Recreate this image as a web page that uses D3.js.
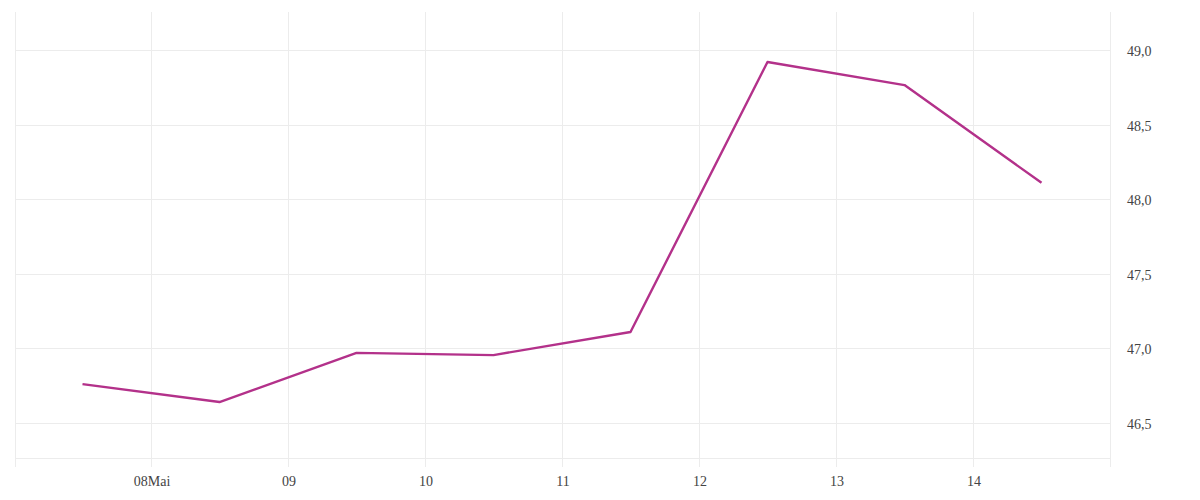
<!DOCTYPE html>
<html><head><meta charset="utf-8">
<script src="https://cdn.jsdelivr.net/npm/d3@7"></script>
<style>body{margin:0;background:#fff}svg{display:block}</style>
</head><body>
<script>
const dates = ["2024-05-07T12:00","2024-05-08T12:00","2024-05-09T12:00","2024-05-10T12:00","2024-05-11T12:00","2024-05-12T12:00","2024-05-13T12:00","2024-05-14T12:00"];
const values = [46.76, 46.64, 46.97, 46.955, 47.11, 48.92, 48.765, 48.11];
const yTicks = [46.5, 47.0, 47.5, 48.0, 48.5, 49.0];
const xTickLabels = ["08Mai","09","10","11","12","13","14"];

const W = 1200, H = 500;
const m = {left: 14, right: 90, top: 12, bottom: 42};
const svg = d3.select("body").append("svg").attr("width", W).attr("height", H);
const parse = d3.timeParse("%Y-%m-%dT%H:%M");
const data = dates.map((d,i)=>({date: parse(d), v: values[i]}));

const x = d3.scaleTime().domain([parse("2024-05-07T00:00"), parse("2024-05-15T00:00")]).range([m.left, W - m.right]);
const y = d3.scaleLinear().domain([46.265, 49.255]).range([H - m.bottom, m.top]);
const xTicks = d3.range(8, 15).map(d => parse(`2024-05-${String(d).padStart(2,"0")}T00:00`));

const grid = "#ececec";
const plotL = m.left + 1;
// horizontal grid
svg.append("g").selectAll("line").data(yTicks).join("line")
  .attr("x1", plotL).attr("x2", W - m.right)
  .attr("y1", d => Math.round(y(d)) + 0.5).attr("y2", d => Math.round(y(d)) + 0.5)
  .attr("stroke", grid);
// bottom border
svg.append("line").attr("x1", plotL).attr("x2", W - m.right)
  .attr("y1", H - m.bottom + 0.5).attr("y2", H - m.bottom + 0.5).attr("stroke", grid);
// vertical grid incl. borders
const vxPos = [plotL, ...xTicks.map(d => Math.round(x(d))), Math.round(x(x.domain()[1]))];
svg.append("g").selectAll("line").data(vxPos).join("line")
  .attr("x1", d => d + 0.5).attr("x2", d => d + 0.5)
  .attr("y1", m.top).attr("y2", H - m.bottom + 9)
  .attr("stroke", grid);

// x axis labels
const xAxis = d3.axisBottom(x).tickValues(xTicks).tickSize(0).tickPadding(18)
  .tickFormat((d,i) => xTickLabels[i]);
const gx = svg.append("g").attr("transform", `translate(0.5,${H - m.bottom})`).call(xAxis);
gx.select(".domain").remove();
gx.selectAll("text").attr("font-family", "Liberation Serif").attr("font-size", 14).attr("fill", "#444");

// y axis labels
const fmt = d3.format(".1f");
const yAxis = d3.axisRight(y).tickValues(yTicks).tickSize(0).tickPadding(17)
  .tickFormat(d => fmt(d).replace(".", ","));
const gy = svg.append("g").attr("transform", `translate(${W - m.right},0)`).call(yAxis);
gy.select(".domain").remove();
gy.selectAll("text").attr("font-family", "Liberation Serif").attr("font-size", 14).attr("fill", "#444").attr("dy", "0.4em");

// line
svg.append("path").datum(data)
  .attr("fill", "none").attr("stroke", "#b3318a").attr("stroke-width", 2.4)
  .attr("stroke-linejoin", "round")
  .attr("d", d3.line().x(d => x(d.date)).y(d => y(d.v)));
</script>
</body></html>
